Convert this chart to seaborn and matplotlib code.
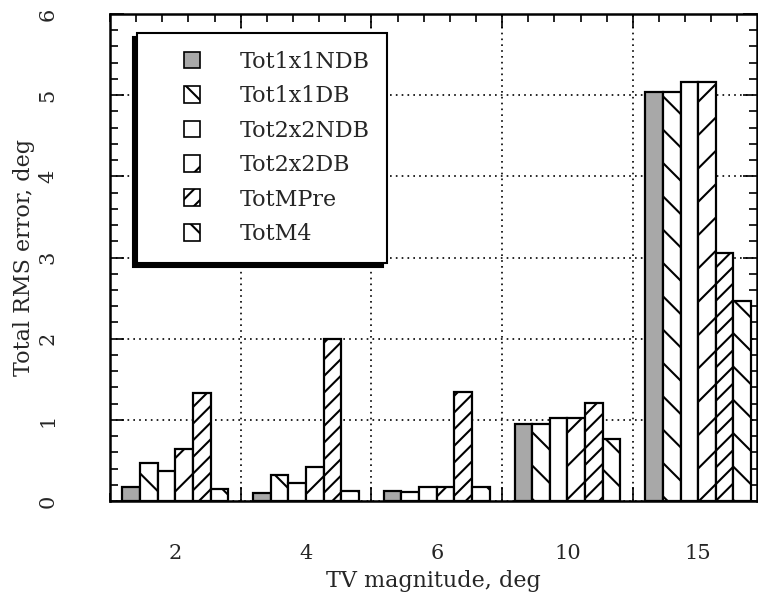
import numpy as np
import pandas as pd
import matplotlib
matplotlib.use("Agg")
import matplotlib.pyplot as plt
import seaborn as sns
from matplotlib.patches import Patch, Rectangle, Shadow
from matplotlib.legend_handler import HandlerPatch
from matplotlib.ticker import MultipleLocator, FixedLocator
from matplotlib.transforms import IdentityTransform

# ---------------- data ----------------
categories = ["2", "4", "6", "10", "15"]
series = ["Tot1x1NDB", "Tot1x1DB", "Tot2x2NDB", "Tot2x2DB", "TotMPre", "TotM4"]
tot1x1ndb = [0.17, 0.10, 0.12, 0.95, 5.04]
tot1x1db = [0.47, 0.32, 0.11, 0.95, 5.04]
tot2x2ndb = [0.37, 0.22, 0.17, 1.02, 5.16]
tot2x2db = [0.64, 0.42, 0.17, 1.02, 5.16]
totmpre = [1.33, 1.99, 1.34, 1.21, 3.05]
totm4 = [0.15, 0.12, 0.17, 0.76, 2.46]
ytick_labels = ["0", "1", "2", "3", "4", "5", "6"]

values = [tot1x1ndb, tot1x1db, tot2x2ndb, tot2x2db, totmpre, totm4]
df = pd.DataFrame(
    [(c, s, v[i]) for s, v in zip(series, values) for i, c in enumerate(categories)],
    columns=["TV", "series", "err"],
)

# ---------------- style ----------------
sns.set_style("white")
plt.rcParams["font.family"] = ["DejaVu Serif"]
plt.rcParams["hatch.linewidth"] = 1.5
plt.rcParams["hatch.color"] = "black"

faces = ["#a8a8a8", "white", "white", "white", "white", "white"]
hatches = [None, "\\", None, "/", "//", "\\"]

fig = plt.figure(figsize=(7.58, 5.97), dpi=100)
ax = fig.add_axes([0.1451, 0.1608, 0.8536, 0.8157])

sns.barplot(
    data=df, x="TV", y="err", hue="series", order=categories, hue_order=series,
    palette=dict(zip(series, faces)), width=0.81, gap=0, edgecolor="black",
    linewidth=1.6, saturation=1, legend=False, ax=ax, zorder=3,
)
for cont, h in zip(ax.containers, hatches):
    for bar in cont:
        if h:
            bar.set_hatch(h)

# ---------------- axes ----------------
ax.set_ylim(0, 6)
ax.set_xlim(-0.5, 4.45)
ax.yaxis.set_major_locator(FixedLocator(range(7)))
ax.yaxis.set_minor_locator(MultipleLocator(0.2))
ax.set_yticklabels(ytick_labels, rotation=90, va="center", fontsize=15)
ax.xaxis.set_major_locator(FixedLocator([0.5, 1.5, 2.5, 3.5]))
ax.xaxis.set_minor_locator(FixedLocator(np.arange(-0.5, 4.5, 0.2)))
ax.set_xticklabels([])
ax.set_xlabel("")
ax.set_ylabel("Total RMS error, deg", fontsize=16, labelpad=2)
ax.tick_params(which="both", direction="in", left=True, right=True, top=True,
               bottom=True, color="black", width=1.2)
ax.tick_params(which="major", length=10)
ax.tick_params(which="minor", length=6)
ax.tick_params(axis="y", which="major", pad=38)
for sp in ax.spines.values():
    sp.set_visible(True)
    sp.set_color("black")
    sp.set_linewidth(1.8)
ax.grid(True, which="major", color="black", linestyle=(0, (1, 2.5)), linewidth=1.2, zorder=0)
ax.set_axisbelow(True)

sec = ax.secondary_xaxis("bottom")
sec.set_xticks(range(len(categories)), labels=categories, fontsize=15)
sec.tick_params(length=0, pad=31)
sec.spines["bottom"].set_visible(False)
sec.set_xlabel("TV magnitude, deg", fontsize=16, labelpad=5)

# ---------------- legend ----------------
def square(legend, orig_handle, xdescent, ydescent, width, height, fontsize):
    s = 0.75 * fontsize
    return Rectangle((-xdescent + width - s, -ydescent + (height - s) / 2), s, s)

handles = [Patch(facecolor=f, edgecolor="black", hatch=h, linewidth=1.2, label=s)
           for f, h, s in zip(faces, hatches, series)]
leg = ax.legend(
    handles=handles, loc="upper left", bbox_to_anchor=(0.042, 0.961),
    borderaxespad=0, fontsize=16, frameon=True, fancybox=False, framealpha=1,
    edgecolor="black", handlelength=2.05, handleheight=0.75, handletextpad=1.75,
    labelspacing=0.56, borderpad=0.8,
    handler_map={Patch: HandlerPatch(patch_func=square)},
)
leg.get_frame().set_linewidth(1.5)
leg.set_zorder(10)

fig.canvas.draw()
sh = Shadow(leg.legendPatch, -3, -3, facecolor="black", edgecolor="black", alpha=1)
sh.set_transform(IdentityTransform())
sh.set_zorder(9)
ax.add_artist(sh)

fig.savefig("out.png", dpi=100)
